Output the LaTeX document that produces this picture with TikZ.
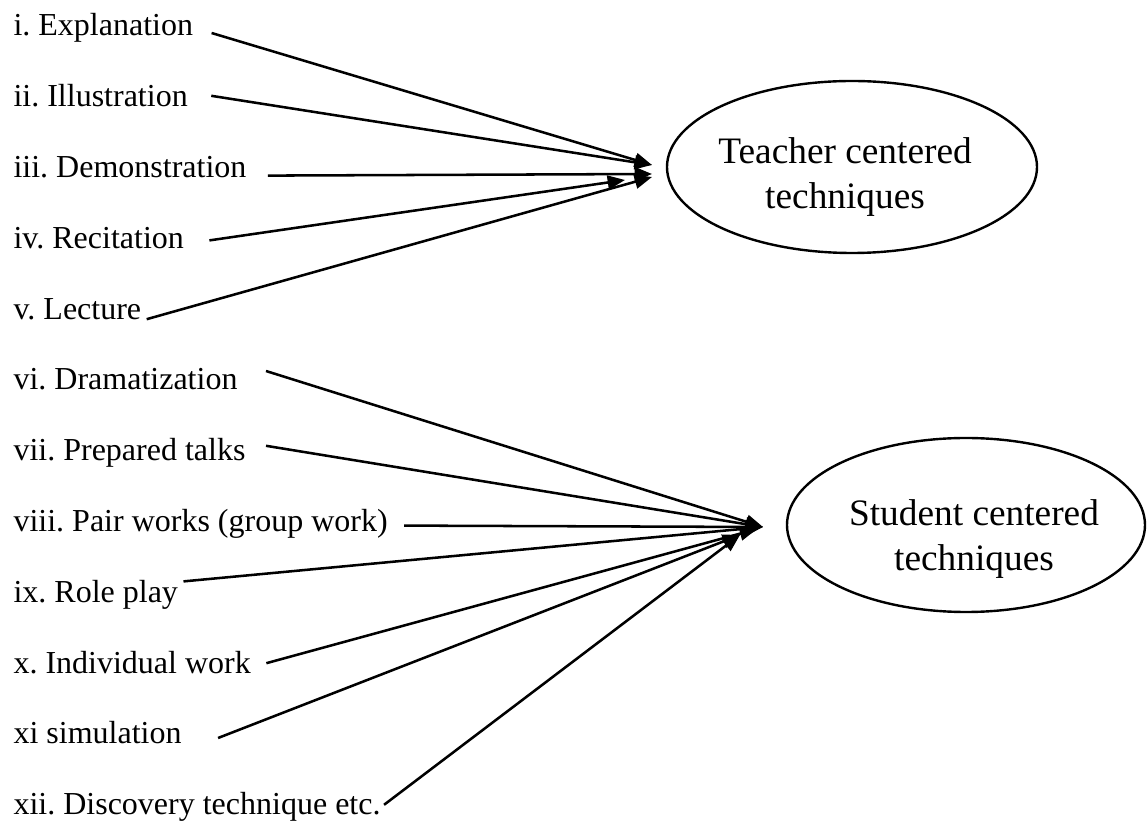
\documentclass[tikz,border=0pt]{standalone}
\usepackage{fontspec}
\setmainfont{Liberation Serif}
\usetikzlibrary{arrows.meta,positioning,calc,shapes.geometric}
\frenchspacing

\begin{document}
\begin{tikzpicture}[
  x=0.375pt, y=-0.375pt,
  node distance=26.55pt,
  item/.style={inner sep=0pt, anchor=base west, font=\fontsize{12}{14}\selectfont},
  group/.style={draw, line width=0.9pt, ellipse, inner sep=0pt},
  grouptext/.style={align=center, inner sep=0pt, font=\fontsize{14}{17}\selectfont},
  arr/.style={-{Triangle[length=6.5pt,width=5.2pt]}, line width=0.95pt}
]
  \useasboundingbox (0,0) rectangle (1147,826);

  % techniques, top to bottom
  \node[item] (l1) at (13,36) {i. Explanation};
  \node[item, below=of l1.base west, anchor=base west] (l2) {ii. Illustration};
  \node[item, below=of l2.base west, anchor=base west] (l3) {iii. Demonstration};
  \node[item, below=of l3.base west, anchor=base west] (l4) {iv. Recitation};
  \node[item, below=of l4.base west, anchor=base west] (l5) {v. Lecture};
  \node[item, below=of l5.base west, anchor=base west] (l6) {vi. Dramatization};
  \node[item, below=of l6.base west, anchor=base west] (l7) {vii. Prepared talks};
  \node[item, below=of l7.base west, anchor=base west] (l8) {viii. Pair works (group work)};
  \node[item, below=of l8.base west, anchor=base west] (l9) {ix. Role play};
  \node[item, below=of l9.base west, anchor=base west] (l10) {x. Individual work};
  \node[item, below=of l10.base west, anchor=base west] (l11) {xi simulation};
  \node[item, below=of l11.base west, anchor=base west] (l12) {xii. Discovery technique etc.};

  % the two groups
  \node[group, minimum width=138.75pt, minimum height=64.5pt,
    label={[grouptext, xshift=-2.6pt, yshift=-3.7pt]center:Teacher centered\\techniques}]
    (teacher) at (852,167) {};
  \node[group, minimum width=134.25pt, minimum height=65.25pt,
    label={[grouptext, xshift=3pt, yshift=-5.2pt]center:Student centered\\techniques}]
    (student) at (966,525) {};

  % where the lines start
  \coordinate (s1) at ($(l1.base east)+(18,-3)$);
  \coordinate (s2) at ($(l2.base east)+(23,-11)$);
  \coordinate (s3) at ($(l3.base east)+(21,-2)$);
  \coordinate (s4) at ($(l4.base east)+(25,-8)$);
  \coordinate (s5) at ($(l5.base east)+(5,0)$);
  \coordinate (s6) at ($(l6.base east)+(28,-19)$);
  \coordinate (s7) at ($(l7.base east)+(20,-15)$);
  \coordinate (s8) at ($(l8.base east)+(16,-6)$);
  \coordinate (s9) at ($(l9.base east)+(5,-21)$);
  \coordinate (s10) at ($(l10.base east)+(15,-10)$);
  \coordinate (s11) at ($(l11.base east)+(36,-6)$);
  \coordinate (s12) at ($(l12.base east)+(3,-10)$);

  % where the arrows end
  \coordinate (ta) at (652,165);
  \coordinate (tb) at (652,174);
  \coordinate (tc) at (625,180);
  \coordinate (td) at (652,177);
  \coordinate (sa) at (763,527);
  \coordinate (sb) at (757,529);
  \coordinate (sc) at (740,535);

  \draw[arr] (s1) -- (ta);
  \draw[arr] (s2) -- (ta);
  \draw[arr] (s3) -- (tb);
  \draw[arr] (s4) -- (tc);
  \draw[arr] (s5) -- (td);
  \draw[arr] (s6) -- (sa);
  \draw[arr] (s7) -- (sa);
  \draw[arr] (s8) -- (sa);
  \draw[arr] (s9) -- (sa);
  \draw[arr] (s10) -- (sb);
  \draw[arr] (s11) -- (sc);
  \draw[arr] (s12) -- (sc);
\end{tikzpicture}
\end{document}
